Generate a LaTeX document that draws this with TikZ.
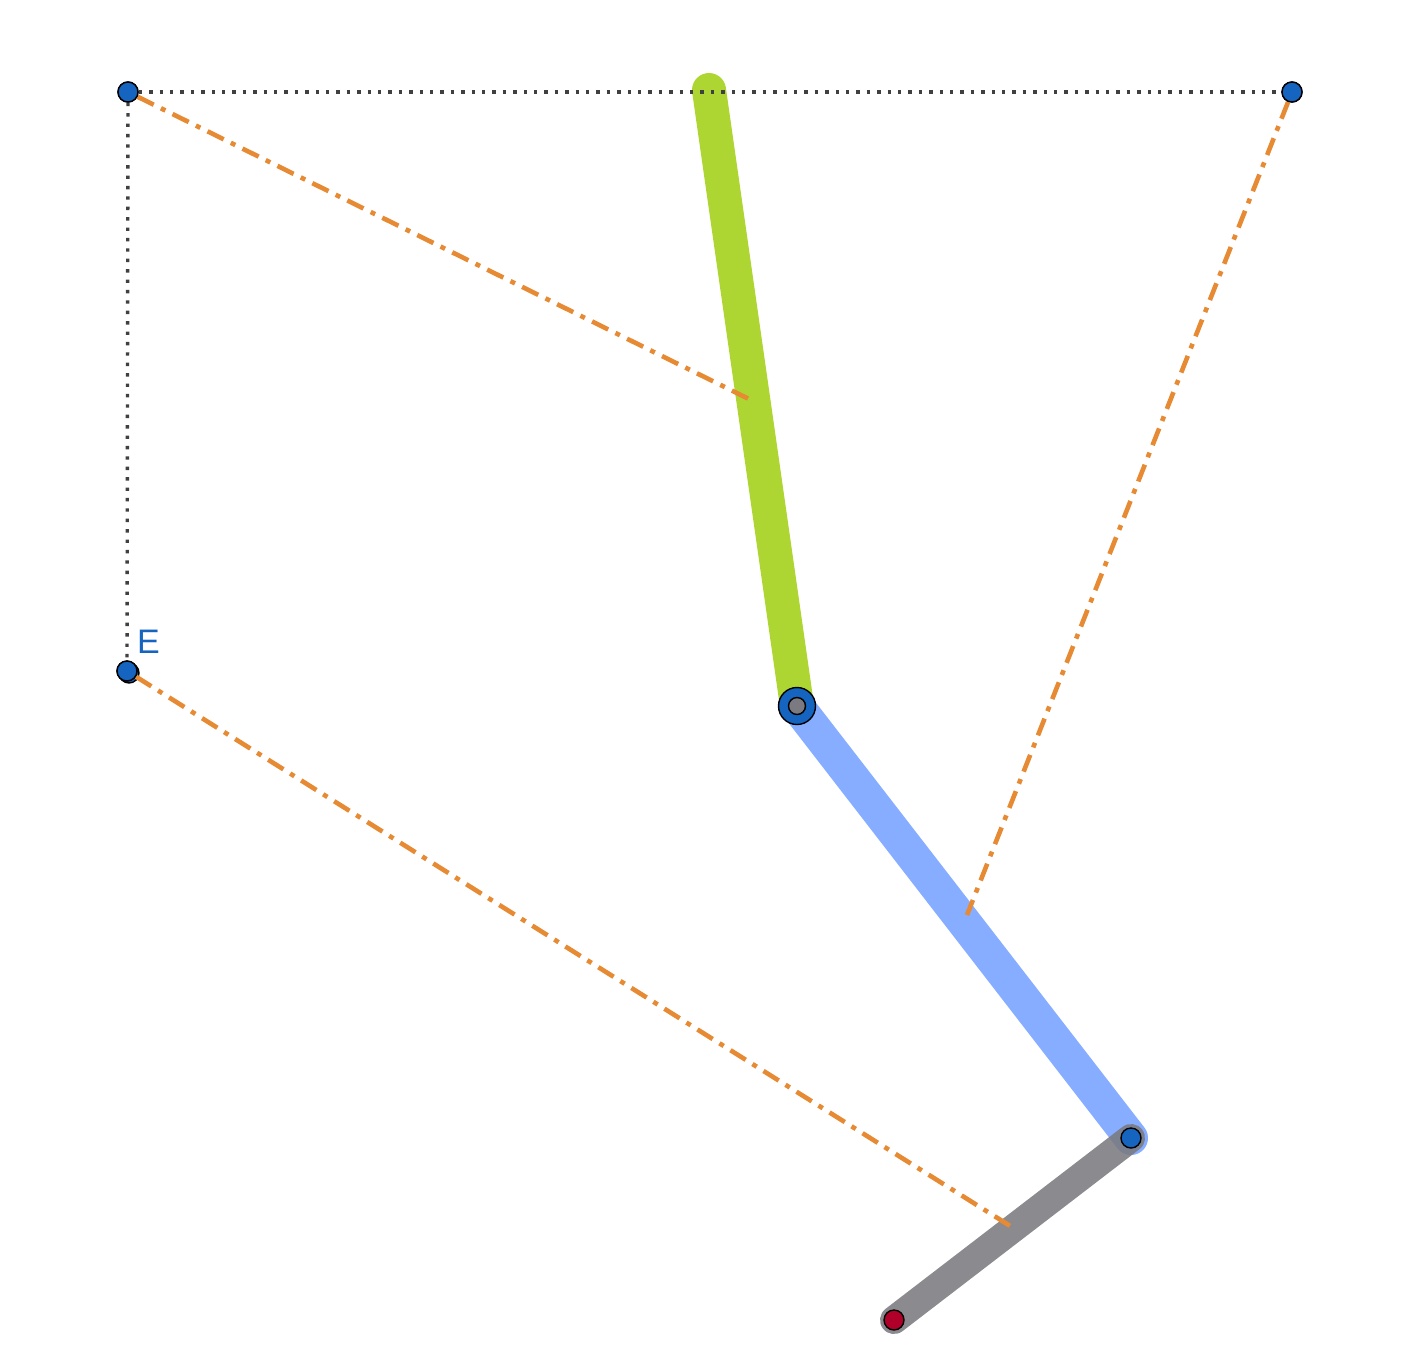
\documentclass[tikz,border=0pt]{standalone}
\usepackage{fontspec}
\setmainfont{Liberation Sans}
\begin{document}
\begin{tikzpicture}[x=1pt,y=-1pt,
  pt/.style={circle,draw=black,line width=1.4pt,fill=ptblue,minimum size=20pt,inner sep=0pt},
  guide/.style={draw=black!75,line width=3.4pt,dash pattern=on 3.4pt off 7pt},
  axis/.style={draw=dorange,line width=4.6pt,dash pattern=on 18pt off 8pt on 5pt off 8pt},
  bar/.style={line width=34pt,line cap=round}]
\definecolor{ptblue}{HTML}{1565C0}
\definecolor{dorange}{HTML}{E68A33}
\definecolor{lgreen}{HTML}{ADD633}
\definecolor{lblue}{HTML}{86ADFF}
\definecolor{dgray}{HTML}{7A7A80}
\definecolor{dred}{HTML}{B0002A}
\useasboundingbox (0,0) rectangle (1411,1361);
\coordinate (hip) at (709,90);
\coordinate (knee) at (797,706);
\coordinate (ankle) at (1131,1138);
\coordinate (toe) at (894,1320);
\coordinate (o1) at (755,402);
\coordinate (o2) at (967,915);
\coordinate (o3) at (1015,1229);
% bars
\draw[bar,lgreen] (hip) -- (knee);
\draw[bar,lblue] (knee) -- (ankle);
\draw[line width=28pt,line cap=round,dgray,opacity=0.88] (ankle) -- (toe);
% points
\node[pt] (A) at (128,92) {};
\node[pt] (B) at (1292,92) {};
\node[pt] (E2) at (129,673) {};
\node[pt] (E) at (127,671) {};
\node[text=ptblue,font=\fontsize{34}{34}\selectfont,anchor=base west,inner sep=0pt] (El) at (137,653) {E};
% guides
\draw[guide] (A) -- (B);
\draw[guide] (A) -- (E);
% orange axes
\draw[axis] (A) -- (o1);
\draw[axis] (B) -- (o2);
\draw[axis] (E) -- (o3);
% redraw points on top
\node[pt] at (A) {};
\node[pt] at (B) {};
\node[pt] at (E) {};
\node[pt] (C) at (ankle) {};
\node[pt,minimum size=37pt] (K) at (knee) {};
\node[circle,draw=black,line width=1.4pt,fill=dgray,minimum size=17pt,inner sep=0pt] (K2) at (knee) {};
\node[circle,draw=black,line width=1.4pt,fill=dred,minimum size=20pt,inner sep=0pt] (T) at (toe) {};
\end{tikzpicture}
\end{document}
